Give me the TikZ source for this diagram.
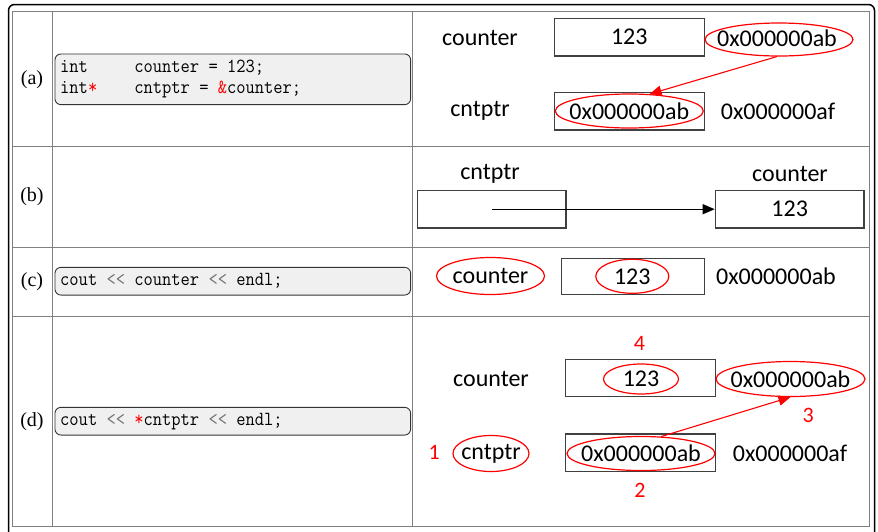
\documentclass[tikz,border=0pt]{standalone}
\usepackage{fontspec}
\setmainfont{Liberation Serif}
\setsansfont{Carlito}
\newfontfamily\codefont{Latin Modern Mono}[FakeStretch=0.9]
\usetikzlibrary{arrows.meta,shapes.geometric}
\begin{document}
\begin{tikzpicture}[x=1pt,y=-1pt,
		grid/.style={draw=black!50,line width=1pt},
		rowtag/.style={font=\fontsize{20}{24}\selectfont,inner sep=0},
		codebox/.style={draw=black!80,fill=black!6,rounded corners=6pt,line width=.9pt,minimum width=355.7pt,inner sep=0},
		codeline/.style={anchor=base west,inner sep=0,font=\fontsize{20}{24}\codefont},
		txt/.style={font=\fontsize{24}{28}\sffamily,inner sep=0},
		num/.style={font=\fontsize{22}{26}\sffamily,inner sep=0,text=red},
		cell/.style={txt,draw=black!75,line width=1.3pt,minimum width=150pt,minimum height=37.5pt},
		hilite/.style={ellipse,draw=red,line width=1.2pt,inner sep=0},
		ptrarrow/.style={-{Triangle[length=12pt,width=10pt]},line width=1.1pt}]
		\useasboundingbox (0,0) rectangle (878,531);
		
		\draw[line width=1.5pt,rounded corners=6pt] (8.5,545) -- (8.5,4.5) -- (874.5,4.5) -- (874.5,545);
		\draw[grid] (12,11) rectangle (869,526);
		\draw[grid] (52,11) -- (52,526); \draw[grid] (412,11) -- (412,526);
		\foreach \y in {146,247,316} \draw[grid] (12,\y) -- (869,\y);
		
		\node[rowtag] (taga) at (32,80) {(a)};
		\node[rowtag] (tagb) at (32,197) {(b)};
		\node[rowtag] (tagc) at (32,281.5) {(c)};
		\node[rowtag] (tagd) at (32,421.5) {(d)};
		
		\node[codebox,minimum height=50.7pt] (codea) at (232.8,79.3) {};
		\node[codeline] (codea1) at (60,72) {int~~~~~counter~=~123;};
		\node[codeline] (codea2) at (60,93) {int\textcolor{red}{*}~~~~cntptr~=~\textcolor{red}{\&}counter;};
		\node[codebox,minimum height=27.7pt] (codec) at (232.8,281.2) {};
		\node[codeline] (codec1) at (60,285) {cout~\textcolor{black!55}{<<}~counter~\textcolor{black!55}{<<}~endl;};
		\node[codebox,minimum height=27.7pt] (coded) at (232.8,421.2) {};
		\node[codeline] (coded1) at (60,425) {cout~\textcolor{black!55}{<<}~\textcolor{red}{*}cntptr~\textcolor{black!55}{<<}~endl;};
		
		% (a)
		\node[txt] (aname) at (480,38) {counter};
		\node[cell] (abox) at (629.3,37.2) {123};
		\node[txt] (aaddrtxt) at (777,38.3) {0x000000ab};
		\node[hilite,minimum width=148pt,minimum height=33pt] (aaddr) at (779,39.5) {};
		\node[txt] (pname) at (480,111) {cntptr};
		\node[cell] (pbox) at (629.3,111.2) {};
		\node[txt] (pvaltxt) at (629.3,111) {0x000000ab};
		\node[hilite,minimum width=148pt,minimum height=34pt] (pval) at (629.3,111) {};
		\node[txt] (paddr) at (778,111) {0x000000af};
		\draw[ptrarrow,red] (aaddr.-97) -- (pval.40);
		
		% (b)
		\node[txt] (bptrname) at (490,174) {cntptr};
		\node[cell,minimum width=148.7pt] (bptr) at (491.7,209.2) {};
		\node[txt] (bvalname) at (790,174) {counter};
		\node[cell,minimum width=148.7pt] (bval) at (789.7,209.2) {123};
		\draw[ptrarrow] (bptr.center) -- (bval.west);
		
		% (c)
		\node[txt] (cnametxt) at (490.5,276) {counter};
		\node[hilite,minimum width=108pt,minimum height=37pt] (cname) at (cnametxt) {};
		\node[cell,minimum width=143pt,minimum height=36pt] (cbox) at (633.2,276.3) {};
		\node[txt] (cvaltxt) at (632.3,276.3) {123};
		\node[hilite,minimum width=73pt,minimum height=34pt] (cval) at (cvaltxt) {};
		\node[txt] (caddr) at (776,276) {0x000000ab};
		
		% (d)
		\node[num] (n4) at (639.5,343.3) {4};
		\node[txt] (dname) at (491,379) {counter};
		\node[cell] (dbox) at (640.7,378) {};
		\node[txt] (dvaltxt) at (641,379) {123};
		\node[hilite,minimum width=75pt,minimum height=30pt] (dval) at (dvaltxt) {};
		\node[txt] (daddrtxt) at (790.5,379) {0x000000ab};
		\node[hilite,minimum width=149pt,minimum height=35pt] (daddr) at (daddrtxt) {};
		\node[num] (n3) at (808.3,415) {3};
		\node[num] (n1) at (434.3,452.7) {1};
		\node[txt] (dptrtxt) at (491,453.5) {cntptr};
		\node[hilite,minimum width=76pt,minimum height=36pt] (dptr) at (dptrtxt) {};
		\node[cell] (dptrbox) at (640.7,452.8) {};
		\node[txt] (dptrvaltxt) at (641,453.5) {0x000000ab};
		\node[hilite,minimum width=148pt,minimum height=34pt] (dptrval) at (dptrvaltxt) {};
		\node[txt] (dptraddr) at (790,453) {0x000000af};
		\node[num] (n2) at (640,490) {2};
		\draw[ptrarrow,red] (dptrval.40) -- (daddr.south);
\end{tikzpicture}
\end{document}
